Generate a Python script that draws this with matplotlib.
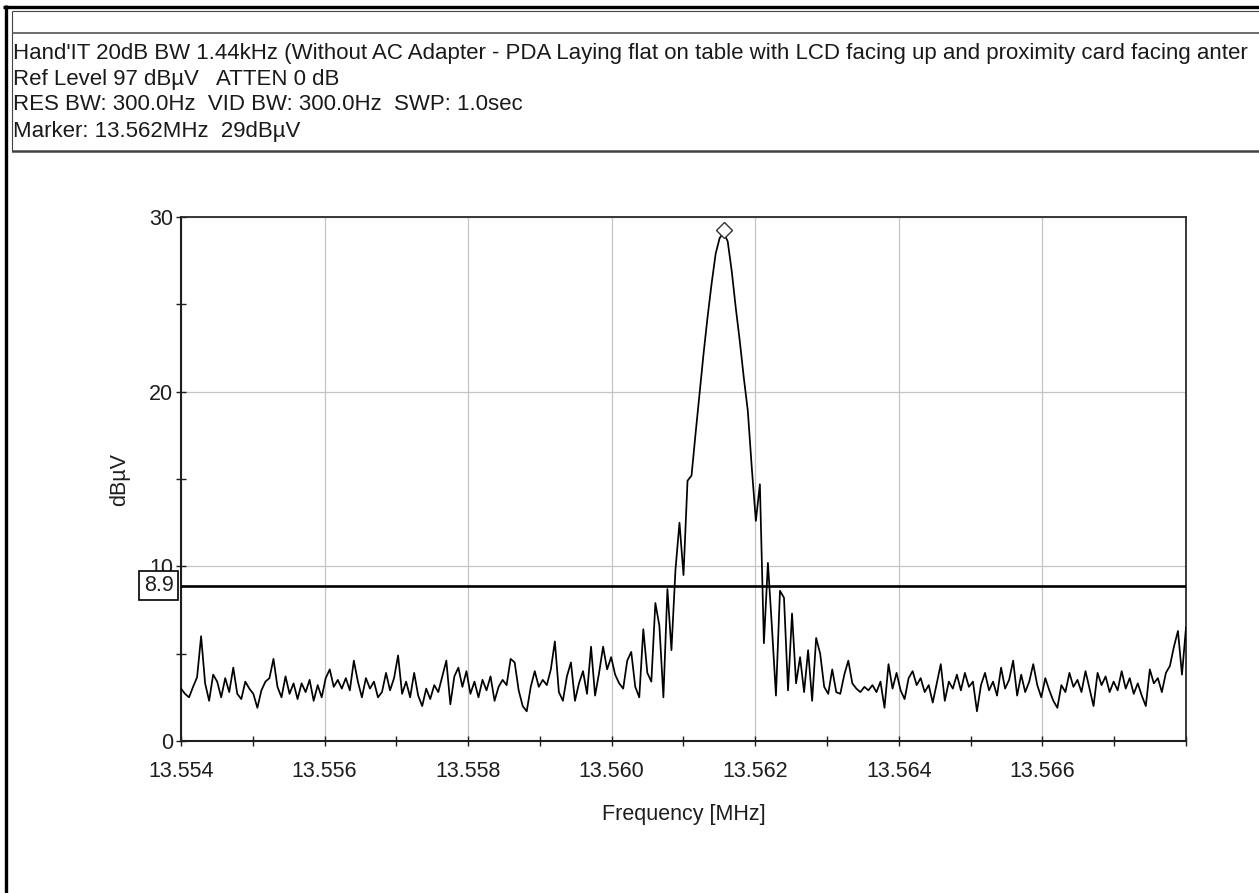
import numpy as np
import matplotlib
matplotlib.use("Agg")
import matplotlib.pyplot as plt
from matplotlib.lines import Line2D
from matplotlib.transforms import blended_transform_factory

plt.rcParams['font.family'] = ['Liberation Sans', 'DejaVu Sans']

# ---------------- data ----------------
F_START = 13.554   # MHz, sweep start
F_STOP = 13.568    # MHz, sweep stop
amplitude_dbuv = [
    3.0, 2.7, 2.5, 3.1, 3.65, 6.0, 3.3, 2.3, 3.8, 3.4,
    2.5, 3.6, 2.8, 4.2, 2.7, 2.4, 3.4, 3.0, 2.7, 1.9,
    2.9, 3.4, 3.6, 4.7, 3.1, 2.5, 3.7, 2.7, 3.3, 2.4,
    3.3, 2.8, 3.5, 2.3, 3.2, 2.5, 3.6, 4.1, 3.1, 3.5,
    3.0, 3.6, 2.9, 4.6, 3.4, 2.5, 3.6, 3.0, 3.4, 2.5,
    2.8, 3.9, 2.9, 3.6, 4.9, 2.7, 3.4, 2.5, 3.9, 2.6,
    2.0, 3.0, 2.4, 3.2, 2.8, 3.7, 4.6, 2.1, 3.7, 4.2,
    3.1, 4.0, 2.7, 3.4, 2.5, 3.5, 2.9, 3.7, 2.3, 3.1,
    3.5, 3.2, 4.7, 4.5, 2.9, 2.0, 1.7, 3.1, 4.0, 3.1,
    3.5, 3.2, 4.1, 5.7, 2.8, 2.3, 3.7, 4.5, 2.3, 3.3,
    4.0, 2.7, 5.4, 2.6, 3.9, 5.4, 4.1, 4.8, 3.8, 3.3,
    3.0, 4.6, 5.1, 3.1, 2.5, 6.4, 3.9, 3.4, 7.9, 6.6,
    2.5, 8.7, 5.2, 9.8, 12.5, 9.5, 14.9, 15.2, 17.6, 19.9,
    22.2, 24.3, 26.2, 27.9, 28.8, 29.1, 28.6, 26.9, 24.8, 22.9,
    20.8, 18.9, 15.6, 12.6, 14.7, 5.6, 10.2, 6.5, 2.6, 8.6,
    8.2, 2.9, 7.3, 3.3, 4.8, 2.8, 5.2, 2.3, 5.9, 5.0,
    3.1, 2.7, 4.1, 2.8, 2.7, 3.8, 4.6, 3.3, 3.0, 2.8,
    3.1, 2.9, 3.2, 2.8, 3.4, 1.9, 4.4, 3.0, 3.9, 2.9,
    2.4, 3.6, 4.0, 3.2, 3.6, 2.8, 3.2, 2.2, 3.3, 4.4,
    2.3, 3.4, 3.0, 3.8, 2.9, 3.9, 3.1, 3.4, 1.7, 3.2,
    3.9, 2.9, 3.4, 2.6, 4.2, 3.0, 3.5, 4.6, 2.6, 3.8,
    2.8, 3.4, 4.4, 3.2, 2.5, 3.6, 2.9, 2.3, 1.9, 3.2,
    2.8, 3.9, 3.1, 3.5, 2.8, 4.0, 3.0, 2.0, 3.9, 3.2,
    3.7, 2.8, 3.4, 2.9, 4.0, 3.0, 3.6, 2.7, 3.3, 2.6,
    2.0, 4.1, 3.3, 3.6, 2.8, 3.9, 4.3, 5.4, 6.3, 3.8,
    6.5,
]
ref_line_level = 8.9
x_tick_values = [13.554, 13.556, 13.558, 13.560, 13.562, 13.564, 13.566]
x_tick_labels = ["13.554", "13.556", "13.558", "13.560", "13.562", "13.564", "13.566"]
x_minor_values = [13.555, 13.557, 13.559, 13.561, 13.563, 13.565, 13.567, 13.568]
y_tick_values = [0, 10, 20, 30]
y_minor_values = [5, 15, 25]
header_lines = [
    "Hand'IT 20dB BW 1.44kHz (Without AC Adapter - PDA Laying flat on table with LCD facing up and proximity card facing anter",
    "Ref Level 97 dB\u00b5V   ATTEN 0 dB",
    "RES BW: 300.0Hz  VID BW: 300.0Hz  SWP: 1.0sec",
    "Marker: 13.562MHz  29dB\u00b5V",
]

freq = np.linspace(F_START, F_STOP, len(amplitude_dbuv))
amp = np.array(amplitude_dbuv)

# ---------------- figure ----------------
W, H = 1259, 893
fig = plt.figure(figsize=(W / 100, H / 100), dpi=100)
fig.patch.set_facecolor('white')


def fx(px):
    return px / W


def fy(py):
    return 1 - py / H


def fline(x0, y0, x1, y1, lw, color):
    fig.add_artist(Line2D([fx(x0), fx(x1)], [fy(y0), fy(y1)], lw=lw, color=color,
                          solid_capstyle='butt'))


# outer frame and header box
fline(3, 7, W, 7, 2.4, 'black')
fline(6, 5, 6, H, 2.4, 'black')
fline(12, 11, W, 11, 0.8, '#444444')
fline(12, 11, 12, 152, 0.8, '#444444')
fline(12, 33, W, 33, 1.2, '#555555')
fline(12, 151, W, 151, 1.8, '#444444')

TXT = '#1e1e1e'
FS = 15.5
HFS = 16.0

# header text
for txt, yc in zip(header_lines, [53, 79, 105, 131]):
    fig.text(fx(13), fy(yc), txt, ha='left', va='center', fontsize=HFS, color='#1a1a1a')

# main plot axes
ax = fig.add_axes([fx(181), fy(741), fx(1186) - fx(181), fy(217) - fy(741)])
ax.set_xlim(F_START, F_STOP)
ax.set_ylim(0, 30)

ax.set_xticks(x_tick_values)
ax.set_xticklabels(x_tick_labels)
ax.set_xticks(x_minor_values, minor=True)
ax.set_yticks(y_tick_values)
ax.set_yticks(y_minor_values, minor=True)

ax.grid(True, which='major', color='#c4c4c4', lw=0.9)
ax.set_axisbelow(True)

for side in ['left', 'bottom']:
    ax.spines[side].set_linewidth(1.5)
    ax.spines[side].set_color('#1e1e1e')
for side in ['top', 'right']:
    ax.spines[side].set_linewidth(1.3)
    ax.spines[side].set_color('#2a2a2a')

ax.tick_params(which='both', direction='inout', length=7, width=1.0, color='#1e1e1e',
               labelsize=FS, labelcolor=TXT)
ax.tick_params(axis='x', which='major', pad=11)
ax.tick_params(axis='y', which='major', pad=2)

ax.plot(freq, amp, color='black', lw=1.25, zorder=3)

# reference line and its label box
ax.axhline(ref_line_level, color='black', lw=1.9, zorder=4)
trans = blended_transform_factory(ax.transAxes, ax.transData)
ax.text(-0.0075, ref_line_level, f"{ref_line_level:.1f}", transform=trans, ha='right',
        va='center', fontsize=FS, color=TXT, zorder=6, clip_on=False,
        bbox=dict(boxstyle='square,pad=0.2', fc='white', ec='black', lw=1.2))

# peak marker
ipk = int(np.argmax(amp))
ax.plot([freq[ipk]], [amp[ipk] + 0.15], marker='D', ms=8.5, mfc='white', mec='#333333',
        mew=1.0, zorder=5, clip_on=False)

ax.set_xlabel("Frequency [MHz]", fontsize=FS, color=TXT, labelpad=16)
ax.set_ylabel("dB\u00b5V", fontsize=FS, color=TXT, labelpad=14)

fig.savefig("out.png", dpi=100)
